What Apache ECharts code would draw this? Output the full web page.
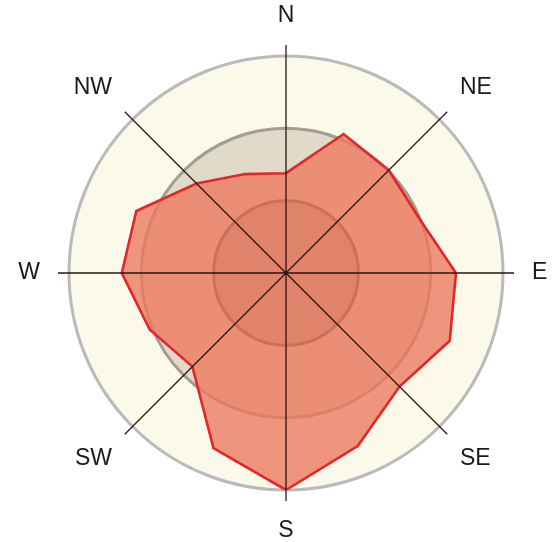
<!DOCTYPE html>
<html><head><meta charset="utf-8">
<script src="https://cdn.jsdelivr.net/npm/echarts/dist/echarts.min.js"></script>
<style>html,body{margin:0;padding:0;background:#fff}#c{width:552px;height:542px}</style>
</head><body><div id="c"></div>
<script>
// Compass direction labels (axis ticks every 45°)
const directions = ['N', 'NE', 'E', 'SE', 'S', 'SW', 'W', 'NW'];
// 16 sector bearings (degrees clockwise from N)
const sectorAngles = [0, 22.5, 45, 67.5, 90, 112.5, 135, 157.5, 180, 202.5, 225, 247.5, 270, 292.5, 315, 337.5];
// Values (outer ring = 30)
const sectorValues = [13.8, 20.8, 20.1, 19.9, 23.5, 24.5, 22.2, 25.9, 30, 26.2, 18.3, 20.4, 22.7, 22.4, 17.5, 14.8];
// Ring scale
const ringMax = 30;
const ringStep = 10;

const polygon = sectorAngles.map((a, i) => [sectorValues[i], a]);
polygon.push([sectorValues[0], 360]);

const chart = echarts.init(document.getElementById('c'), null, { renderer: 'canvas' });
chart.setOption({
  animation: false,
  backgroundColor: '#ffffff',
  polar: [
    { center: [286, 273], radius: 228 },
    { center: [286, 273], radius: 217 },
    { center: [286, 273], radius: 217 }
  ],
  angleAxis: [
    {
      polarIndex: 0, type: 'value', min: 0, max: 360, interval: 45,
      startAngle: 90, clockwise: true, z: 5,
      axisLine: { show: false }, axisTick: { show: false },
      splitLine: { show: true, lineStyle: { color: '#2a1512', width: 1.3 } },
      axisLabel: {
        margin: 18, fontSize: 23, color: '#1a1a1a',
        fontFamily: 'Liberation Sans, Arial, sans-serif',
        formatter: v => directions[Math.round(v / 45) % 8]
      }
    },
    { polarIndex: 1, type: 'value', min: 0, max: 360, startAngle: 90, clockwise: true, show: false },
    { polarIndex: 2, type: 'value', min: 0, max: 360, startAngle: 90, clockwise: true, show: false }
  ],
  radiusAxis: [
    { polarIndex: 0, type: 'value', min: 0, max: 1, show: false },
    {
      polarIndex: 1, type: 'value', min: 0, max: ringMax, interval: ringStep, z: 0,
      axisLine: { show: false }, axisTick: { show: false }, axisLabel: { show: false },
      splitLine: { show: false },
      splitArea: { show: true, areaStyle: { color: ['#b4a596', '#e2dac8', '#fbf9ea'] } }
    },
    {
      polarIndex: 2, type: 'value', min: 0, max: ringMax, interval: ringStep, z: 1,
      axisLine: { show: false }, axisTick: { show: false }, axisLabel: { show: false },
      splitArea: { show: false },
      splitLine: { show: true, lineStyle: { color: ['#5e4e48', '#5e4e48', '#a49c92', '#bababa'], width: 3 } }
    }
  ],
  series: [{
    type: 'line', coordinateSystem: 'polar', polarIndex: 1,
    data: polygon, symbol: 'none', clip: false, silent: true, z: 3,
    lineStyle: { color: '#e2262a', width: 2.6, join: 'miter' },
    areaStyle: { color: 'rgba(237,120,93,0.78)', opacity: 1 }
  }]
});
</script>
</body></html>
